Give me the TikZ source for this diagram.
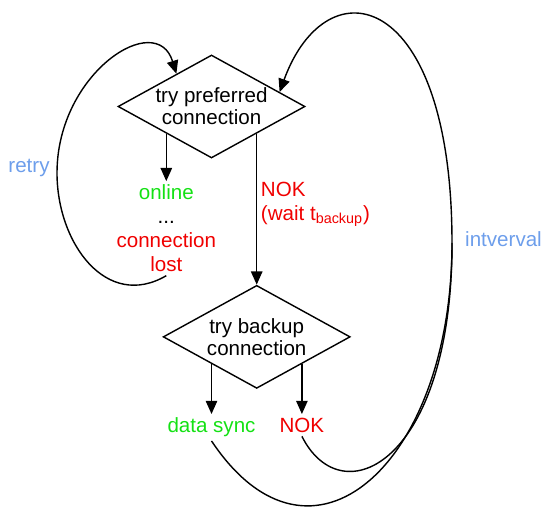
\documentclass[tikz,border=0pt]{standalone}
\usepackage{fontspec}
\setmainfont{Liberation Sans}
\usepackage{xcolor}
\usetikzlibrary{arrows.meta}
\usetikzlibrary{shapes.geometric}
\usetikzlibrary{positioning}
\definecolor{verde}{RGB}{20,225,20}
\definecolor{vermelho}{RGB}{240,0,0}
\definecolor{azul}{RGB}{109,158,235}
\tikzset{
  decisao/.style={draw, diamond, aspect=1.82, inner sep=0pt, minimum width=3.74cm, minimum height=2.06cm, align=center, line width=0.8pt, font=\fontsize{11.7}{12.5}\selectfont},
  rotulo/.style={align=center, inner sep=2pt, font=\fontsize{11.7}{13.6}\selectfont},
  seta/.style={-{Triangle[width=6.5pt,length=7.5pt]}, line width=0.8pt},
  laco/.style={line width=0.8pt},
}

\begin{document}
\begin{tikzpicture}
  \useasboundingbox (0,0) rectangle (10.86,-10.2);
  \node[decisao] (pref) at (4.23,-2.13) {try preferred\\connection};
  \node[decisao, below=3.02cm of pref.-31] (backup) {try backup\\connection};
  \node[rotulo, below=0.95cm of pref.-149] (res) {\textcolor{verde}{online}\\...\\\textcolor{vermelho}{connection}\\\textcolor{vermelho}{lost}};
  \node[rotulo, text=verde, below=1.0cm of backup.-149] (sync) {data sync};
  \node[rotulo, text=vermelho, below=1.0cm of backup.-31] (nok) {NOK};
  \node[rotulo, text=azul, anchor=base] (retry) at (0.58,-3.46) {retry};
  \node[rotulo, text=azul, anchor=base] (intervalo) at (10.07,-4.94) {intverval};
  \coordinate (esq) at (1.14,-3.46);
  \coordinate (volta) at (9.04,-4.86);

  \draw[seta] (pref.-149) -- (res);
  \draw[seta] (pref.-31) -- node[rotulo, text=vermelho, right, align=left, pos=.47] (espera) {NOK\\(wait t\textsubscript{backup})} (backup);
  \draw[seta] (backup.-149) -- (sync);
  \draw[seta] (backup.-31) -- (nok);
  % laco de retry
  \draw[seta] (res.south) .. controls +(-1.2,-0.7) and +(0,-1.4) .. (esq) .. controls +(0,2.0) and +(-0.4,1.3) .. (pref.137);
  % laco de intervalo
  \draw[seta] (sync.south) .. controls +(2.0,-3.0) and +(0,-4.4) .. (volta) .. controls +(0,5.06) and +(0.95,2.6) .. (pref.12);
  \draw[laco] (nok.south) .. controls +(0.8,-1.6) and +(0,-4.4) .. (volta);
\end{tikzpicture}
\end{document}
